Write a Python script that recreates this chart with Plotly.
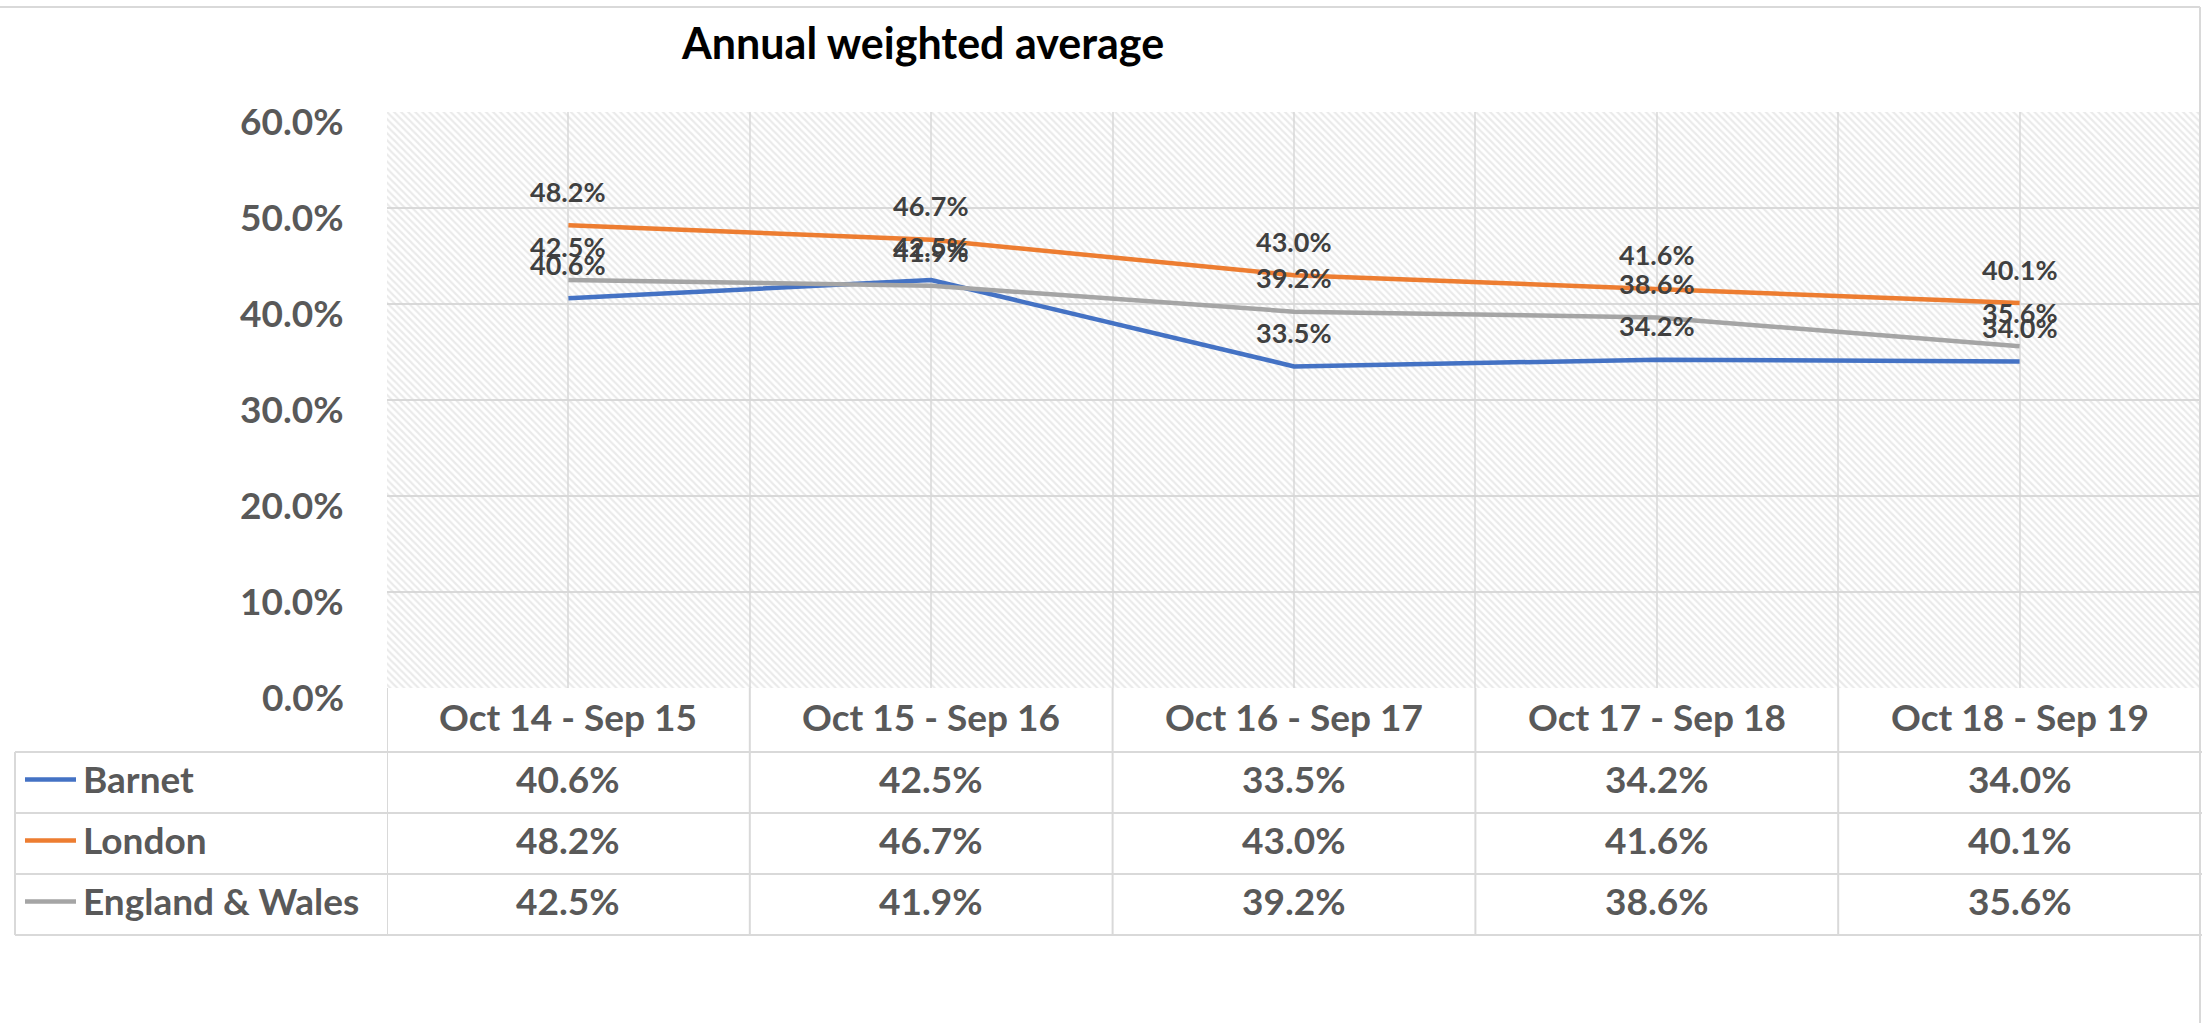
import plotly.graph_objects as go

# ---------------- data ----------------
categories = ["Oct 14 - Sep 15", "Oct 15 - Sep 16", "Oct 16 - Sep 17",
              "Oct 17 - Sep 18", "Oct 18 - Sep 19"]
series_names = ["Barnet", "London", "England & Wales"]
barnet = [0.406, 0.425, 0.335, 0.342, 0.340]
london = [0.482, 0.467, 0.430, 0.416, 0.401]
england_wales = [0.425, 0.419, 0.392, 0.386, 0.356]
y_ticks = [0.0, 0.1, 0.2, 0.3, 0.4, 0.5, 0.6]
title_text = "Annual weighted average"

# ---------------- styling ----------------
series_values = [barnet, london, england_wales]
colors = ["#4472C4", "#ED7D31", "#A5A5A5"]
FONT = "Lato, 'Open Sans', sans-serif"
TXT = "#595959"
GRID = "#D9D9D9"
TSIZE = 37

W, H = 2204, 1023
L, R, T, B = 387, 2201, 112, 688
y_max = y_ticks[-1]


def px(x):
    return (x - L) / (R - L)


def py(y):
    return (B - y) / (B - T)


xs = list(range(len(categories)))

fig = go.Figure()

# hatched plot-area background
fig.add_trace(go.Bar(
    x=xs, y=[y_max] * len(xs), width=1.0,
    marker=dict(color="rgba(0,0,0,0)", line=dict(width=0),
                pattern=dict(shape="\\", size=5, solidity=0.45,
                             fgcolor="#D6D6D6", bgcolor="rgba(0,0,0,0)")),
    hoverinfo="skip", showlegend=False,
))

for name, vals, col in zip(series_names, series_values, colors):
    fig.add_trace(go.Scatter(
        x=xs, y=vals, mode="lines", name=name,
        line=dict(color=col, width=4.5), showlegend=False,
    ))

annotations = []
# y tick labels (slightly below their gridlines, as in the original)
for t in y_ticks:
    annotations.append(dict(
        x=px(346), y=t, xref="paper", yref="y", yshift=-8, showarrow=False,
        text=f"{t*100:.1f}%", xanchor="right", yanchor="middle",
        font=dict(family=FONT, size=TSIZE, color=TXT, weight="bold"),
    ))

# data labels
for vals in series_values:
    for xi, v in zip(xs, vals):
        annotations.append(dict(
            x=xi, y=v, xref="x", yref="y", yshift=34, showarrow=False,
            text=f"{v*100:.1f}%",
            font=dict(family=FONT, size=27, color="#404040", weight="bold"),
        ))

# title
annotations.append(dict(
    x=px(922), y=py(42), xref="paper", yref="paper", showarrow=False,
    text=title_text, xanchor="center", yanchor="middle",
    font=dict(family=FONT, size=43, color="#000000", weight="bold"),
))

# table header (categories)
for xi, c in zip(xs, categories):
    annotations.append(dict(
        x=xi, y=py(716), xref="x", yref="paper", showarrow=False,
        text=c, xanchor="center", yanchor="middle",
        font=dict(family=FONT, size=TSIZE, color=TXT, weight="bold"),
    ))

row_edges = [752, 813, 874, 935]
shapes = []
for r, (name, vals, col) in enumerate(zip(series_names, series_values, colors)):
    yc = (row_edges[r] + row_edges[r + 1]) / 2 - 4
    annotations.append(dict(
        x=px(81), y=py(yc), xref="paper", yref="paper", showarrow=False,
        text=name, xanchor="left", yanchor="middle",
        font=dict(family=FONT, size=TSIZE, color=TXT, weight="bold"),
    ))
    shapes.append(dict(type="line", xref="paper", yref="paper",
                       x0=px(25), x1=px(76), y0=py(yc + 1), y1=py(yc + 1),
                       line=dict(color=col, width=4.5)))
    for xi, v in zip(xs, vals):
        annotations.append(dict(
            x=xi, y=py(yc), xref="x", yref="paper", showarrow=False,
            text=f"{v*100:.1f}%", xanchor="center", yanchor="middle",
            font=dict(family=FONT, size=TSIZE, color=TXT, weight="bold"),
        ))

# table grid lines
for b in [i - 0.5 for i in range(len(categories) + 1)]:
    shapes.append(dict(type="line", xref="x", yref="paper",
                       x0=b, x1=b, y0=py(B), y1=py(935),
                       line=dict(color=GRID, width=2)))
for ye in row_edges:
    shapes.append(dict(type="line", xref="paper", yref="paper",
                       x0=px(15), x1=px(2202), y0=py(ye), y1=py(ye),
                       line=dict(color=GRID, width=2)))
shapes.append(dict(type="line", xref="paper", yref="paper",
                   x0=px(15), x1=px(15), y0=py(752), y1=py(935),
                   line=dict(color=GRID, width=2)))
# chart-area border (top and right)
shapes.append(dict(type="line", xref="paper", yref="paper",
                   x0=px(0), x1=px(2200), y0=py(7), y1=py(7),
                   line=dict(color=GRID, width=2)))
shapes.append(dict(type="line", xref="paper", yref="paper",
                   x0=px(2200), x1=px(2200), y0=py(7), y1=py(1023),
                   line=dict(color=GRID, width=2)))

fig.update_layout(
    width=W, height=H,
    margin=dict(l=L, r=W - R, t=T, b=H - B, pad=0),
    paper_bgcolor="white", plot_bgcolor="white",
    showlegend=False,
    annotations=annotations, shapes=shapes,
    bargap=0,
    xaxis=dict(range=[-0.5, len(categories) - 0.5], tickmode="linear",
               tick0=-0.5, dtick=0.5, showticklabels=False,
               showgrid=True, gridcolor="#E2E2E2", gridwidth=1.5,
               zeroline=False, showline=False, fixedrange=True),
    yaxis=dict(range=[0, y_max], tickvals=y_ticks, showticklabels=False,
               showgrid=True, gridcolor=GRID, gridwidth=2,
               zeroline=False, showline=False, ticks="",
               fixedrange=True),
)

fig.write_html("out.html", config={"displayModeBar": False},
               post_script="document.body.style.margin='0';")
